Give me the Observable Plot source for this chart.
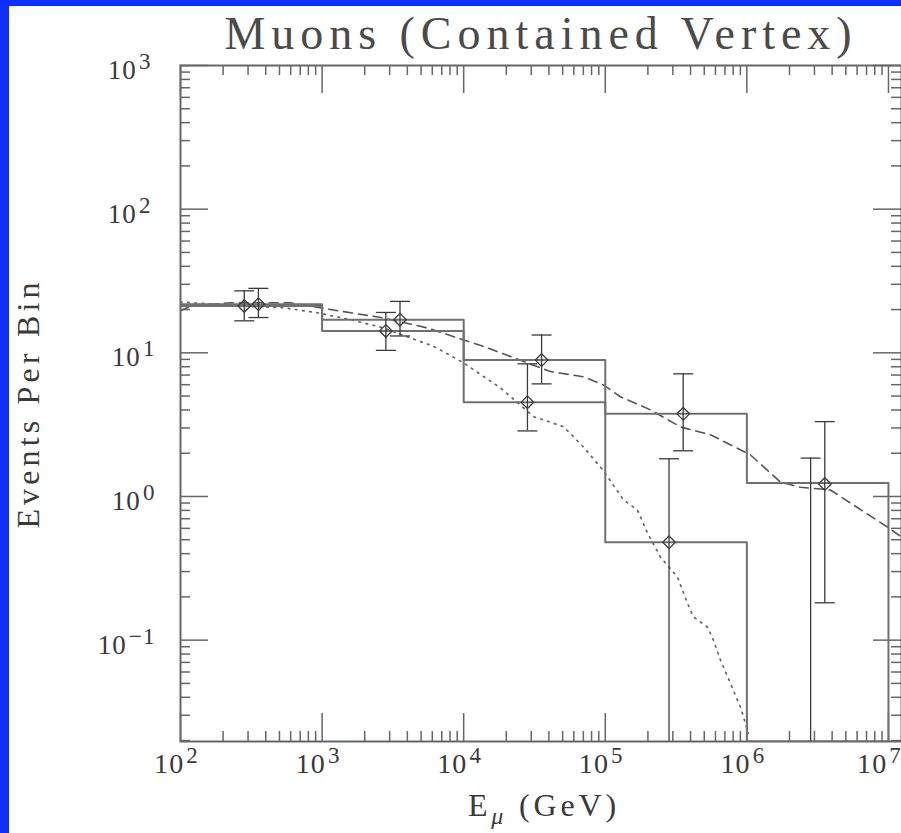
<!DOCTYPE html>
<html><head><meta charset="utf-8">
<script src="https://cdn.jsdelivr.net/npm/d3@7"></script>
<script src="https://cdn.jsdelivr.net/npm/@observablehq/plot@0.6"></script>
<style>
html,body{margin:0;padding:0;background:#0f2fff;width:901px;height:833px;overflow:hidden}
#chart{position:absolute;left:9px;top:6px;width:892px;height:827px;background:#fff;overflow:hidden}
svg{display:block}
</style></head><body><div id="chart"></div>
<script>
// ---- data ----
const titleText = "Muons (Contained Vertex)";
const xLabelText = "E_μ (GeV)";
const yLabelText = "Events Per Bin";

const binEdges = [1e2, 1e3, 1e4, 1e5, 1e6, 1e7];
const histA = [21.8, 17.0, 8.9, 3.76, 1.24];
const histB = [21.2, 14.2, 4.53, 0.48, 0];

const pointsAx = [355, 3550, 35500, 355000, 3550000];
const pointsAy = [21.8, 17.0, 8.9, 3.76, 1.22];
const pointsAlo = [17.6, 13.1, 6.08, 2.08, 0.182];
const pointsAhi = [28.1, 22.8, 13.3, 7.14, 3.32];

const pointsBx = [282, 2820, 28200, 282000, 2820000];
const pointsBy = [21.2, 14.2, 4.53, 0.48, 0];
const pointsBlo = [16.7, 10.4, 2.86, 0, 0];
const pointsBhi = [27.0, 19.1, 8.38, 1.83, 1.85];

const dashedE = [100, 118, 225, 598, 1146, 2716, 5546, 9977, 13800, 18197, 41020, 70146, 97051, 127900, 208449, 339625, 553341, 1059000, 1726000, 2388000, 3890000, 9840000, 12360000];
const dashedN = [19.6, 21.2, 22.3, 22.3, 20.0, 17.5, 14.9, 12.3, 11.1, 10.0, 7.41, 6.81, 5.98, 4.94, 4.01, 3.05, 2.69, 1.95, 1.26, 1.16, 1.11, 0.612, 0.522];

const dottedE = [100, 312, 533, 927, 1589, 2716, 4207, 6124, 9977, 13804, 18197, 31117, 50699, 70146, 97051, 134586, 168655, 198609, 245471, 323594, 380189, 419759, 527230, 580764, 651628, 765597, 901571, 1026000];
const dottedN = [22.6, 21.0, 20.6, 19.0, 17.0, 14.9, 12.7, 11.1, 8.51, 6.84, 5.70, 3.60, 3.06, 2.21, 1.51, 0.946, 0.805, 0.557, 0.378, 0.275, 0.181, 0.145, 0.123, 0.100, 0.0726, 0.0501, 0.0341, 0.0225];

const xMajor = [1e2, 1e3, 1e4, 1e5, 1e6, 1e7];
const xTickLabels = ["10^2", "10^3", "10^4", "10^5", "10^6", "10^7"];
const yMajor = [1e-1, 1e0, 1e1, 1e2, 1e3];
const yTickLabels = ["10^−1", "10^0", "10^1", "10^2", "10^3"];
const minorMultipliers = [2, 3, 4, 5, 6, 7, 8, 9];

// ---- layout ----
const W = 892, H = 827, mL = 171, mR = 0, mT = 59, mB = 92;
const innerW = W - mL - mR, innerH = H - mT - mB;
const xDomain = [100, 1.236e7];
const yDomain = [0.0197, 1000];
const floorY = yDomain[0];
const majorLen = 28, minorLen = 10;

const inRange = (v, d) => v >= d[0] && v <= d[1];
const xMinor = [];
xMajor.forEach(m => minorMultipliers.forEach(k => { if (inRange(k * m, xDomain)) xMinor.push(k * m); }));
const yMinor = [];
[1e-2, ...yMajor].forEach(m => minorMultipliers.forEach(k => { if (inRange(k * m, yDomain)) yMinor.push(k * m); }));

function steps(vals) {
  const pts = vals.map((v, i) => ({x: binEdges[i], y: Math.max(v, floorY)}));
  const last = binEdges[binEdges.length - 1];
  pts.push({x: last, y: Math.max(vals[vals.length - 1], floorY)});
  pts.push({x: last, y: floorY});
  return pts;
}
function pts(xs, ys, los, his) {
  return xs.map((x, i) => ({x, y: ys[i], lo: los[i], hi: his[i]}));
}
const ptsA = pts(pointsAx, pointsAy, pointsAlo, pointsAhi);
const ptsB = pts(pointsBx, pointsBy, pointsBlo, pointsBhi);
const allPts = [...ptsA, ...ptsB];
const dashed = dashedE.map((e, i) => ({x: e, y: dashedN[i]}));
const dotted = dottedE.map((e, i) => ({x: e, y: dottedN[i]}));

const capSymbol = {draw(ctx, size) { const r = Math.sqrt(size / Math.PI); ctx.moveTo(-r, 0); ctx.lineTo(r, 0); }};

const axisC = "#666", histC = "#707070", errC = "#3a3a3a", textC = "#3a3a3a";
const lastIdx = xMajor.length - 1;

const svg = Plot.plot({
  width: W, height: H,
  marginLeft: mL, marginRight: mR, marginTop: mT, marginBottom: mB,
  style: {fontFamily: "Liberation Serif", background: "white", overflow: "hidden"},
  x: {type: "log", domain: xDomain, axis: null},
  y: {type: "log", domain: yDomain, axis: null},
  marks: [
    // ticks (inward, four sides)
    Plot.tickX(xMajor, {x: d => d, insetTop: innerH - majorLen, stroke: axisC, strokeWidth: 1.5}),
    Plot.tickX(xMinor, {x: d => d, insetTop: innerH - minorLen, stroke: axisC, strokeWidth: 1.5}),
    Plot.tickX(xMajor, {x: d => d, insetBottom: innerH - majorLen, stroke: axisC, strokeWidth: 1.5}),
    Plot.tickX(xMinor, {x: d => d, insetBottom: innerH - minorLen, stroke: axisC, strokeWidth: 1.5}),
    Plot.tickY(yMajor, {y: d => d, insetRight: innerW - majorLen, stroke: axisC, strokeWidth: 1.5}),
    Plot.tickY(yMinor, {y: d => d, insetRight: innerW - minorLen, stroke: axisC, strokeWidth: 1.5}),
    Plot.tickY(yMajor, {y: d => d, insetLeft: innerW - majorLen, stroke: axisC, strokeWidth: 1.5}),
    Plot.tickY(yMinor, {y: d => d, insetLeft: innerW - minorLen, stroke: axisC, strokeWidth: 1.5}),
    // curves
    Plot.line(dotted, {x: "x", y: "y", stroke: "#666", strokeWidth: 1.7, strokeDasharray: "1.6,5.6", clip: true}),
    Plot.line(dashed, {x: "x", y: "y", stroke: "#555", strokeWidth: 1.6, strokeDasharray: "9,6", clip: true}),
    // histograms
    Plot.line(steps(histA), {x: "x", y: "y", curve: "step-after", stroke: histC, strokeWidth: 2, clip: true}),
    Plot.line(steps(histB), {x: "x", y: "y", curve: "step-after", stroke: histC, strokeWidth: 2, clip: true}),
    // error bars
    Plot.ruleX(allPts, {x: "x", y1: d => Math.max(d.lo, floorY), y2: "hi", stroke: errC, strokeWidth: 1.3, clip: true}),
    Plot.dot(allPts, {x: "x", y: "hi", symbol: capSymbol, r: 10, stroke: errC, strokeWidth: 1.3}),
    Plot.dot(allPts.filter(d => d.lo > 0), {x: "x", y: "lo", symbol: capSymbol, r: 10, stroke: errC, strokeWidth: 1.3}),
    Plot.dot(allPts.filter(d => d.y > 0), {x: "x", y: "y", symbol: "diamond2", r: 5.7, stroke: errC, strokeWidth: 1.3, fill: "none"}),
    // frame
    Plot.frame({stroke: axisC, strokeWidth: 2}),
    // tick labels
    Plot.text(xMajor, {x: d => d, text: (d, i) => xTickLabels[i], frameAnchor: "bottom", dy: 31, fontSize: 28, fill: textC, textAnchor: "middle"}),
    Plot.text(yMajor, {y: d => d, text: (d, i) => yTickLabels[i], frameAnchor: "left", dx: -25, dy: 5, fontSize: 27, fill: textC, textAnchor: "end"}),
    // titles
    Plot.text([titleText], {text: d => d, frameAnchor: "top", lineAnchor: "bottom", dy: -17, fontSize: 46, fill: "#4a4a4a"}),
    Plot.text([xLabelText], {text: d => d, frameAnchor: "bottom", lineAnchor: "bottom", dy: 74, dx: 3, fontSize: 32, fill: textC}),
    Plot.text([yLabelText], {text: d => d, frameAnchor: "left", textAnchor: "middle", lineAnchor: "bottom", rotate: -90, dx: -142, fontSize: 32, fill: textC})
  ]
});

// superscripts / subscripts as real text
const NS = "http://www.w3.org/2000/svg";
const xLabelSet = new Set(xTickLabels);
svg.querySelectorAll("text").forEach(t => {
  const s = t.textContent;
  const m = s.match(/^10\^(.+)$/);
  if (m) {
    t.setAttribute("letter-spacing", "0.04em");
    t.textContent = "10";
    const sup = document.createElementNS(NS, "tspan");
    sup.setAttribute("dy", "-10");
    sup.setAttribute("font-size", "23");
    sup.setAttribute("dx", "2");
    sup.textContent = m[1];
    t.appendChild(sup);
    const isX = xLabelSet.has(s) && !s.includes("−") && t.getAttribute("text-anchor") !== "end";
    if (isX) t.setAttribute("dx", s === xTickLabels[lastIdx] ? "-9" : "-4");
  } else if (s === xLabelText) {
    t.setAttribute("letter-spacing", "0.12em");
    t.textContent = "E";
    const sub = document.createElementNS(NS, "tspan");
    sub.setAttribute("dy", "8");
    sub.setAttribute("font-size", "24");
    sub.setAttribute("font-style", "italic");
    sub.textContent = "μ";
    const rest = document.createElementNS(NS, "tspan");
    rest.setAttribute("dy", "-8");
    rest.textContent = "\u00a0(GeV)";
    t.appendChild(sub);
    t.appendChild(rest);
  } else {
    t.setAttribute("letter-spacing", "0.13em");
  }
});
document.getElementById("chart").appendChild(svg);
</script>
</body></html>
